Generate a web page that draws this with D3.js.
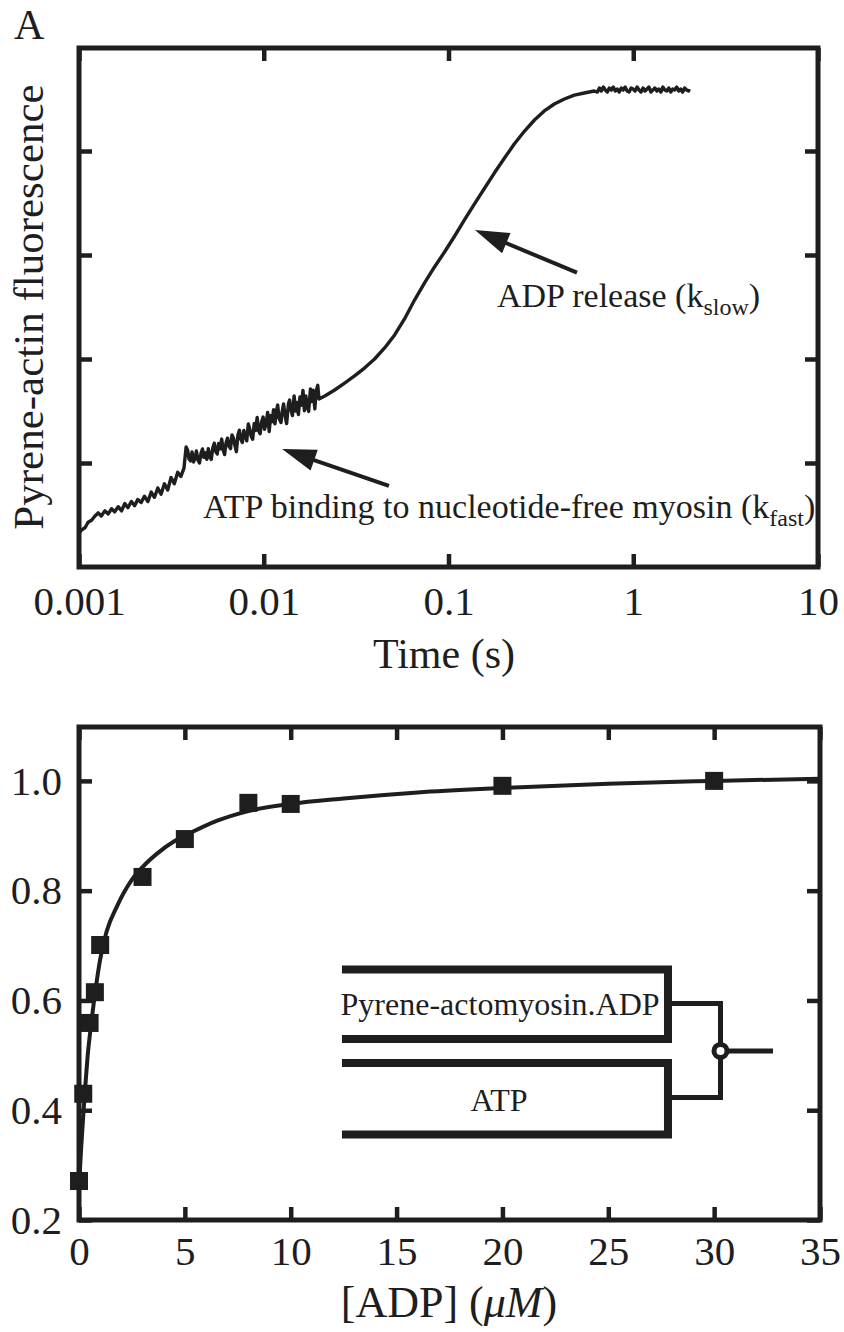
<!DOCTYPE html>
<html><head><meta charset="utf-8">
<script src="https://cdn.jsdelivr.net/npm/d3@7"></script>
<style>
body{margin:0;background:#fff;}
svg text{font-family:"Liberation Serif","Times New Roman",serif;fill:#1e1e1e;}
</style></head><body>
<svg id="c" width="844" height="1332"></svg>
<script>
// ---------- Panel A data: stopped-flow trace ----------
const traceTime = [
0.00100,0.00104,0.00108,0.00112,0.00117,0.00122,0.00127,0.00132,0.00138,0.00144,0.00150,0.00156,0.00163,0.00170,0.00177,0.00184,0.00192,0.00200,0.00208,0.00217,0.00226,0.00236,0.00246,0.00256,0.00267,0.00278,0.00290,0.00302,0.00315,0.00328,0.00342,0.00356,0.00370,
0.00380,0.00387,0.00394,0.00402,0.00409,0.00417,0.00425,0.00432,0.00440,0.00449,
0.00457,0.00466,0.00474,0.00483,0.00492,0.00501,0.00511,0.00520,0.00530,0.00540,
0.00550,0.00560,0.00570,0.00581,0.00592,0.00603,0.00614,0.00625,0.00637,0.00649,
0.00661,0.00673,0.00686,0.00698,0.00711,0.00725,0.00738,0.00752,0.00766,0.00780,
0.00795,0.00809,0.00825,0.00840,0.00855,0.00871,0.00888,0.00904,0.00921,0.00938,
0.00956,0.00973,0.00992,0.0101,0.0103,0.0105,0.0107,0.0109,0.0111,0.0113,
0.0115,0.0117,0.0119,0.0121,0.0124,0.0126,0.0128,0.0131,0.0133,0.0136,
0.0138,0.0141,0.0143,0.0146,0.0149,0.0151,0.0154,0.0157,0.0160,0.0163,
0.0166,0.0169,0.0172,0.0175,0.0179,0.0182,0.0185,0.0189,0.0192,0.0196,0.0199,
0.0214,0.0242,0.0274,0.0310,0.0351,0.0398,0.0451,0.0511,0.0578,0.0655,0.0742,0.0840,0.0952,0.108,0.122,0.138,0.157,0.177,0.201,0.227,0.258,0.292,0.330,0.374,0.424,0.480,0.543,0.615,
0.640,0.656,0.672,0.689,0.706,0.724,0.742,0.761,0.780,0.799,0.819,0.840,0.861,0.882,0.904,0.927,0.950,0.974,0.998,1.023,1.049,1.075,1.102,1.130,1.158,1.187,1.216,1.247,1.278,1.310,1.343,1.376,1.411,1.446,1.482,1.519,1.557,1.596,1.636,1.677,1.719,1.762,1.806,1.851,1.897,1.945,1.993,2.008];
const traceSignal = [
0.33,0.36,0.38,0.43,0.45,0.49,0.52,0.49,0.54,0.51,0.56,0.53,0.58,0.54,0.61,0.57,0.63,0.59,0.65,0.62,0.68,0.63,0.72,0.67,0.76,0.70,0.80,0.74,0.86,0.80,0.91,0.87,0.95,
1.154,1.125,1.038,1.019,1.106,1.010,1.048,1.115,1.029,1.000,
1.090,1.135,1.054,1.098,1.036,1.138,1.058,1.035,1.146,1.190,
1.110,1.087,1.188,1.137,1.230,1.122,1.081,1.194,1.239,1.160,
1.138,1.270,1.239,1.169,1.109,1.270,1.315,1.228,1.197,1.312,
1.262,1.214,1.376,1.326,1.258,1.228,1.381,1.313,1.437,1.311,
1.281,1.395,1.442,1.325,1.382,1.487,1.303,1.456,1.397,1.512,
1.376,1.500,1.557,1.430,1.389,1.502,1.567,1.439,1.379,1.569,
1.605,1.497,1.456,1.645,1.499,1.583,1.466,1.635,1.556,1.698,
1.503,1.645,1.546,1.496,1.712,1.590,1.700,1.520,1.687,1.747,1.616,
1.644,1.702,1.769,1.837,1.913,2.000,2.106,2.231,2.385,2.567,2.731,2.885,3.029,3.183,3.337,3.490,3.644,3.788,3.933,4.067,4.192,4.298,4.385,4.452,4.500,4.538,4.558,4.577,
4.567,4.606,4.577,4.615,4.587,4.567,4.606,4.587,4.615,4.577,4.596,4.567,4.606,4.587,4.615,4.577,4.567,4.606,4.596,4.577,4.615,4.587,4.567,4.606,4.577,4.596,4.615,4.567,4.587,4.606,4.577,4.596,4.567,4.615,4.587,4.577,4.606,4.567,4.596,4.587,4.615,4.577,4.596,4.567,4.606,4.587,4.577,4.596];
const timeTicks = [0.001,0.01,0.1,1,10];
const timeTickLabels = ["0.001","0.01","0.1","1","10"];
const fluorTicks = [1,2,3,4];
// annotation anchors (data units): [time, signal]
const adpArrow = {tail:[0.496,2.83], tip:[0.139,3.24]};
const atpArrow = {tail:[0.0476,0.779], tip:[0.01256,1.135]};

// ---------- Panel B data: amplitude vs [ADP] ----------
const adpConc = [0,0.2,0.5,0.75,1,3,5,8,10,20,30];
const adpAmp  = [0.271,0.43,0.559,0.615,0.701,0.825,0.894,0.96,0.958,0.991,1.0];
const fitConc = [0,0.1,0.2,0.3,0.4,0.6,0.8,1.0,1.3,1.8,2.5,3.0,3.7,4.5,5.0,6.5,8.0,10.0,12.5,16.0,20.0,25.0,30.0,35.0];
const fitAmp  = [0.26,0.33,0.39,0.445,0.495,0.565,0.625,0.675,0.725,0.772,0.82,0.843,0.868,0.89,0.90,0.927,0.945,0.958,0.968,0.979,0.987,0.995,1.0,1.004];
const adpTicks = [0,5,10,15,20,25,30,35];
const ampTicks = [0.2,0.4,0.6,0.8,1.0];
const ampTickLabels = ["0.2","0.4","0.6","0.8","1.0"];

const INK = "#1e1e1e";
const FONT = '"Liberation Serif","Times New Roman",serif';
const svg = d3.select("#c");

function styleAxis(g, fs){
  g.attr("font-family", FONT).attr("font-size", fs);
  g.select(".domain").remove();
  g.selectAll(".tick line").attr("stroke", INK).attr("stroke-width", 4.5);
  g.selectAll(".tick text").attr("fill", INK);
}

// ================= Panel A =================
const xT = d3.scaleLog().domain([0.001,10]).range([79,818]);
const yT = d3.scaleLinear().domain([0,5]).range([567,47]);

svg.append("text").attr("x",14).attr("y",39).attr("font-size",42).text("A");

svg.append("g").attr("transform","translate(0,567)")
  .call(d3.axisBottom(xT).tickValues(timeTicks).tickFormat((d,i)=>timeTickLabels[i]).tickSizeInner(-13).tickSizeOuter(0).tickPadding(19))
  .call(g=>styleAxis(g,41));
svg.append("g").attr("transform","translate(0,48)")
  .call(d3.axisTop(xT).tickValues(timeTicks).tickFormat("").tickSizeInner(-13).tickSizeOuter(0))
  .call(g=>styleAxis(g,41));
svg.append("g").attr("transform","translate(79,0)")
  .call(d3.axisLeft(yT).tickValues(fluorTicks).tickFormat("").tickSizeInner(-13).tickSizeOuter(0))
  .call(g=>styleAxis(g,41));
svg.append("g").attr("transform","translate(818,0)")
  .call(d3.axisRight(yT).tickValues(fluorTicks).tickFormat("").tickSizeInner(-13).tickSizeOuter(0))
  .call(g=>styleAxis(g,41));

svg.append("rect").attr("x",79).attr("y",48).attr("width",818-79).attr("height",567-48)
  .attr("fill","none").attr("stroke",INK).attr("stroke-width",5);

const trace = traceTime.map((t,i)=>[t,traceSignal[i]]);
svg.append("path").datum(trace)
  .attr("fill","none").attr("stroke",INK).attr("stroke-width",3.4).attr("stroke-linejoin","round")
  .attr("d", d3.line().x(d=>xT(d[0])).y(d=>yT(d[1])));

svg.append("text").attr("x",444).attr("y",668).attr("text-anchor","middle").attr("font-size",42).text("Time (s)");
svg.append("text").attr("transform","translate(43,307) rotate(-90)").attr("text-anchor","middle").attr("font-size",43).text("Pyrene-actin fluorescence");

function arrow(a, xs, ys){
  const x0=xs(a.tail[0]), y0=ys(a.tail[1]), x1=xs(a.tip[0]), y1=ys(a.tip[1]);
  const dx=x1-x0, dy=y1-y0, L=Math.hypot(dx,dy), ux=dx/L, uy=dy/L;
  const hl=34, hw=11;
  const bx=x1-ux*hl, by=y1-uy*hl;
  svg.append("line").attr("x1",x0).attr("y1",y0).attr("x2",bx+ux*4).attr("y2",by+uy*4)
    .attr("stroke",INK).attr("stroke-width",4);
  svg.append("path").attr("fill",INK)
    .attr("d",`M${x1},${y1}L${bx-uy*hw},${by+ux*hw}L${bx+uy*hw},${by-ux*hw}Z`);
}
arrow(adpArrow, xT, yT);
arrow(atpArrow, xT, yT);

const t1 = svg.append("text").attr("x",497).attr("y",307).attr("font-size",34);
t1.append("tspan").text("ADP release (k");
t1.append("tspan").attr("font-size",24).attr("dy",8).text("slow");
t1.append("tspan").attr("dy",-8).text(")");
const t2 = svg.append("text").attr("x",203).attr("y",518).attr("font-size",34);
t2.append("tspan").text("ATP binding to nucleotide-free myosin (k");
t2.append("tspan").attr("font-size",24).attr("dy",8).text("fast");
t2.append("tspan").attr("dy",-8).text(")");

// ================= Panel B =================
const xB = d3.scaleLinear().domain([0,35]).range([79,820]);
const yB = d3.scaleLinear().domain([0.2,1.1]).range([1220,726]);

svg.append("g").attr("transform","translate(0,1220)")
  .call(d3.axisBottom(xB).tickValues(adpTicks).tickFormat(d3.format("d")).tickSizeInner(-13).tickSizeOuter(0).tickPadding(16))
  .call(g=>styleAxis(g,41));
svg.append("g").attr("transform","translate(0,727)")
  .call(d3.axisTop(xB).tickValues(adpTicks).tickFormat("").tickSizeInner(-13).tickSizeOuter(0))
  .call(g=>styleAxis(g,41));
svg.append("g").attr("transform","translate(79,0)")
  .call(d3.axisLeft(yB).tickValues(ampTicks).tickFormat((d,i)=>ampTickLabels[i]).tickSizeInner(-13).tickSizeOuter(0).tickPadding(17))
  .call(g=>styleAxis(g,41));
svg.append("g").attr("transform","translate(820,0)")
  .call(d3.axisRight(yB).tickValues(ampTicks).tickFormat("").tickSizeInner(-13).tickSizeOuter(0))
  .call(g=>styleAxis(g,41));

svg.append("rect").attr("x",79).attr("y",727).attr("width",820-79).attr("height",1220-727)
  .attr("fill","none").attr("stroke",INK).attr("stroke-width",5);

const fit = fitConc.map((c,i)=>[c,fitAmp[i]]);
svg.append("path").datum(fit)
  .attr("fill","none").attr("stroke",INK).attr("stroke-width",4).attr("stroke-linejoin","round")
  .attr("d", d3.line().curve(d3.curveMonotoneX).x(d=>xB(d[0])).y(d=>yB(d[1])));

const sq = 18;
svg.append("g").selectAll("rect").data(adpConc.map((c,i)=>[c,adpAmp[i]])).join("rect")
  .attr("x",d=>xB(d[0])-sq/2).attr("y",d=>yB(d[1])-sq/2).attr("width",sq).attr("height",sq).attr("fill",INK);

const xl = svg.append("text").attr("x",449).attr("y",1317).attr("text-anchor","middle").attr("font-size",44);
xl.append("tspan").text("[ADP] (");
xl.append("tspan").attr("font-style","italic").text("\u03BCM");
xl.append("tspan").text(")");

// Stopped-flow mixing schematic (positioned in panel-B data units)
const schem = {xL:12.42, xR:27.82, xJ:30.30, xOut:32.78,
  box1:[0.6565,0.5298], box2:[0.4861,0.3558], j1:0.5945, j2:0.4232, jc:0.508};
const g = svg.append("g").attr("fill","none").attr("stroke",INK);
g.append("path").attr("stroke-width",8).attr("stroke-linejoin","miter")
  .attr("d",`M${xB(schem.xL)},${yB(schem.box1[0])}H${xB(schem.xR)}V${yB(schem.box1[1])}H${xB(schem.xL)}`);
g.append("path").attr("stroke-width",8).attr("stroke-linejoin","miter")
  .attr("d",`M${xB(schem.xL)},${yB(schem.box2[0])}H${xB(schem.xR)}V${yB(schem.box2[1])}H${xB(schem.xL)}`);
g.append("path").attr("stroke-width",5).attr("stroke-linejoin","miter")
  .attr("d",`M${xB(schem.xR)},${yB(schem.j1)}H${xB(schem.xJ)}V${yB(schem.j2)}H${xB(schem.xR)}`);
g.append("line").attr("stroke-width",5)
  .attr("x1",xB(schem.xJ)).attr("x2",xB(schem.xOut)).attr("y1",yB(schem.jc)).attr("y2",yB(schem.jc));
g.append("circle").attr("cx",xB(schem.xJ)).attr("cy",yB(schem.jc)).attr("r",6.5).attr("fill","#fff").attr("stroke-width",5);
svg.append("text").attr("x",xB(19.89)).attr("y",yB(0.5736)).attr("text-anchor","middle").attr("font-size",32).text("Pyrene-actomyosin.ADP");
svg.append("text").attr("x",xB(19.84)).attr("y",yB(0.399)).attr("text-anchor","middle").attr("font-size",32).text("ATP");
</script>
</body></html>
